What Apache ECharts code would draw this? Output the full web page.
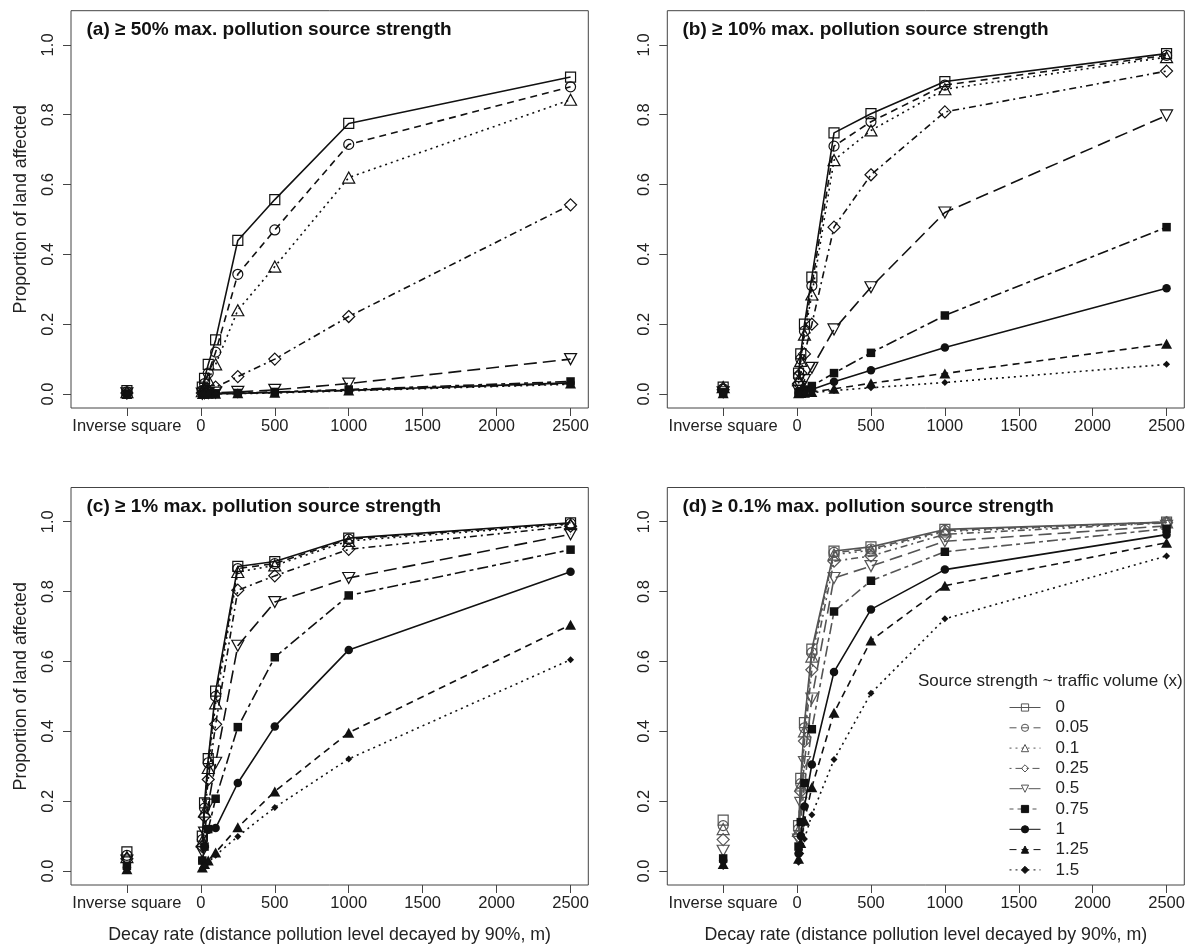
<!DOCTYPE html>
<html>
<head>
<meta charset="utf-8">
<script src="https://cdn.jsdelivr.net/npm/echarts@6/dist/echarts.min.js"></script>
<style>
html, body { margin: 0; padding: 0; background: #fff; }
#main { width: 1189px; height: 947px; }
</style>
</head>
<body>
<div id="main"></div>
<script>
var strengths = ['0', '0.05', '0.1', '0.25', '0.5', '0.75', '1', '1.25', '1.5'];
var decayRates = [10, 25, 50, 100, 250, 500, 1000, 2500];
var inverseSquareX = -500;
var xTicks = [-500, 0, 500, 1000, 1500, 2000, 2500];
var yTicks = [0, 0.2, 0.4, 0.6, 0.8, 1.0];
var panelTitles = [
    '(a) \u2265 50% max. pollution source strength',
    '(b) \u2265 10% max. pollution source strength',
    '(c) \u2265 1% max. pollution source strength',
    '(d) \u2265 0.1% max. pollution source strength'
];

// (a) >= 50%
var invSqA = [0.01, 0.006, 0.005, 0.003, 0.002, 0.001, 0.001, 0, 0];
var decayA = [
    [0.02, 0.045, 0.085, 0.155, 0.44, 0.557, 0.775, 0.908],
    [0.01, 0.03, 0.06, 0.12, 0.343, 0.47, 0.715, 0.88],
    [0.008, 0.02, 0.04, 0.085, 0.24, 0.365, 0.62, 0.843],
    [0.003, 0.007, 0.01, 0.02, 0.05, 0.1, 0.222, 0.542],
    [0.001, 0.002, 0.003, 0.004, 0.006, 0.012, 0.03, 0.1],
    [0.001, 0.001, 0.001, 0.002, 0.003, 0.006, 0.013, 0.036],
    [0.001, 0.001, 0.001, 0.001, 0.002, 0.005, 0.011, 0.032],
    [0, 0.001, 0.001, 0.001, 0.002, 0.004, 0.01, 0.03],
    [0, 0, 0.001, 0.001, 0.001, 0.003, 0.009, 0.028]
];

// (b) >= 10%
var invSqB = [0.02, 0.015, 0.02, 0.012, 0.005, 0.005, 0.003, 0.002, 0.001];
var decayB = [
    [0.06, 0.115, 0.2, 0.335, 0.748, 0.803, 0.895, 0.975],
    [0.05, 0.1, 0.18, 0.31, 0.71, 0.78, 0.885, 0.97],
    [0.04, 0.095, 0.17, 0.285, 0.67, 0.755, 0.873, 0.965],
    [0.03, 0.06, 0.115, 0.2, 0.478, 0.628, 0.808, 0.925],
    [0.01, 0.02, 0.04, 0.075, 0.185, 0.306, 0.52, 0.798],
    [0.005, 0.008, 0.013, 0.023, 0.06, 0.118, 0.225, 0.478],
    [0.003, 0.005, 0.008, 0.013, 0.035, 0.068, 0.133, 0.303],
    [0.002, 0.003, 0.004, 0.006, 0.015, 0.031, 0.059, 0.144],
    [0.001, 0.002, 0.003, 0.004, 0.01, 0.018, 0.033, 0.085]
];

// (c) >= 1%
var invSqC = [0.055, 0.045, 0.04, 0.035, 0.03, 0.015, 0.01, 0.005, 0.003];
var decayC = [
    [0.1, 0.195, 0.322, 0.515, 0.872, 0.886, 0.953, 0.997],
    [0.09, 0.18, 0.31, 0.5, 0.866, 0.88, 0.95, 0.995],
    [0.085, 0.17, 0.295, 0.48, 0.856, 0.875, 0.945, 0.993],
    [0.07, 0.156, 0.262, 0.42, 0.804, 0.845, 0.921, 0.987],
    [0.055, 0.11, 0.19, 0.31, 0.645, 0.77, 0.839, 0.964],
    [0.03, 0.07, 0.12, 0.207, 0.412, 0.612, 0.789, 0.92],
    [0.03, 0.07, 0.118, 0.123, 0.252, 0.414, 0.633, 0.857],
    [0.01, 0.02, 0.03, 0.053, 0.125, 0.228, 0.396, 0.705],
    [0.008, 0.015, 0.025, 0.045, 0.099, 0.182, 0.321, 0.605]
];

// (d) >= 0.1%
var invSqD = [0.146, 0.13, 0.12, 0.09, 0.058, 0.036, 0.03, 0.02, 0.013];
var decayD = [
    [0.13, 0.265, 0.425, 0.635, 0.916, 0.928, 0.978, 0.999],
    [0.12, 0.25, 0.41, 0.625, 0.912, 0.922, 0.975, 0.999],
    [0.115, 0.245, 0.4, 0.614, 0.906, 0.918, 0.972, 0.998],
    [0.1, 0.228, 0.372, 0.576, 0.887, 0.902, 0.964, 0.997],
    [0.09, 0.195, 0.312, 0.494, 0.839, 0.873, 0.944, 0.988],
    [0.07, 0.14, 0.252, 0.406, 0.743, 0.831, 0.914, 0.98],
    [0.05, 0.1, 0.185, 0.305, 0.57, 0.749, 0.863, 0.963],
    [0.035, 0.08, 0.144, 0.24, 0.453, 0.66, 0.817, 0.94],
    [0.025, 0.05, 0.092, 0.161, 0.319, 0.509, 0.722, 0.902]
];

// styles (R lty / pch look-alikes)
var lineDash = ['solid', [7, 5], [2, 4], [2, 4, 7, 4], [13, 6], [4, 4, 11, 4], 'solid', [7, 5], [2, 4]];
var symbolShape = ['rect', 'circle', 'triangle', 'diamond', 'triangle', 'rect', 'circle', 'triangle', 'diamond'];
var symbolTurn = [0, 0, 0, 0, 180, 0, 0, 0, 0];
var symbolDim = [10, 10, [12, 11], 12, [12, 11], 8.5, 8.5, [11, 10], 7];
var symbolFilled = [false, false, false, false, false, true, true, true, true];

var font = 'Liberation Sans, Arial, Helvetica, sans-serif';
var grids = [
    { left: 71, top: 10.7, width: 517.3, height: 397.3 },
    { left: 667.3, top: 10.7, width: 517, height: 397.3 },
    { left: 71, top: 487.5, width: 517.3, height: 397.5 },
    { left: 667.3, top: 487.5, width: 517, height: 397.5 }
];
var titleLeft = [86.5, 682.5, 86.5, 682.5];
var titleTop = [20, 20, 496.8, 496.8];

function buildSeries(panel, invSq, decay, inkTop) {
    return strengths.map(function (s, i) {
        var pts = [[inverseSquareX, invSq[i]], [-250, null]];
        decayRates.forEach(function (d, j) {
            pts.push([d, decay[i][j]]);
        });
        var ink = i < 6 ? inkTop : '#111';
        return {
            name: s,
            type: 'line',
            xAxisIndex: panel,
            yAxisIndex: panel,
            data: pts,
            connectNulls: false,
            symbol: symbolShape[i],
            symbolSize: symbolDim[i],
            symbolRotate: symbolTurn[i],
            showAllSymbol: true,
            lineStyle: { color: ink, width: 1.6, type: lineDash[i] },
            itemStyle: {
                color: symbolFilled[i] ? '#111' : 'rgba(255,255,255,0)',
                borderColor: symbolFilled[i] ? '#111' : ink,
                borderWidth: symbolFilled[i] ? 0 : 1.2
            },
            emphasis: { disabled: true },
            animation: false,
            z: 2 + i
        };
    });
}

function xAxisFor(i, named) {
    return {
        type: 'value',
        gridIndex: i,
        min: -878,
        max: 2620,
        axisLine: { show: false, onZero: false },
        axisTick: { show: true, length: 8, lineStyle: { color: '#444' }, customValues: xTicks },
        axisLabel: {
            customValues: xTicks,
            margin: 10,
            fontSize: 16.5,
            color: '#222',
            fontFamily: font,
            formatter: function (v) { return v === inverseSquareX ? 'Inverse square' : String(v); }
        },
        splitLine: { show: false },
        name: named ? 'Decay rate (distance pollution level decayed by 90%, m)' : '',
        nameLocation: 'middle',
        nameGap: 41,
        nameTextStyle: { fontSize: 17.8, color: '#222', fontFamily: font }
    };
}

function yAxisFor(i, named) {
    return {
        type: 'value',
        gridIndex: i,
        min: -0.04,
        max: 1.098,
        axisLine: { show: false, onZero: false },
        axisTick: { show: true, length: 8, lineStyle: { color: '#444' }, customValues: yTicks },
        axisLabel: {
            customValues: yTicks,
            rotate: 90,
            margin: 14,
            fontSize: 16.5,
            color: '#222',
            fontFamily: font,
            formatter: function (v) { return v.toFixed(1); }
        },
        splitLine: { show: false },
        name: named ? 'Proportion of land affected' : '',
        nameLocation: 'middle',
        nameGap: 41,
        nameTextStyle: { fontSize: 17.8, color: '#222', fontFamily: font }
    };
}

var titles = panelTitles.map(function (t, i) {
    return {
        text: t,
        left: titleLeft[i],
        top: titleTop[i],
        padding: 0,
        textStyle: { fontSize: 19, fontWeight: 'bold', color: '#111', fontFamily: font }
    };
});
titles.push({
    text: 'Source strength ~ traffic volume (x)',
    left: 918,
    top: 672.5,
    padding: 0,
    textStyle: { fontSize: 17, fontWeight: 'normal', color: '#222', fontFamily: font }
});

// panel (d) first so the legend takes its icons from (d)
var series = []
    .concat(buildSeries(3, invSqD, decayD, '#555'))
    .concat(buildSeries(0, invSqA, decayA, '#111'))
    .concat(buildSeries(1, invSqB, decayB, '#111'))
    .concat(buildSeries(2, invSqC, decayC, '#111'));

var option = {
    backgroundColor: '#fff',
    animation: false,
    title: titles,
    grid: grids.map(function (g) {
        return { left: g.left, top: g.top, width: g.width, height: g.height, show: true, borderColor: '#444', borderWidth: 1, backgroundColor: 'transparent' };
    }),
    xAxis: [xAxisFor(0, false), xAxisFor(1, false), xAxisFor(2, true), xAxisFor(3, true)],
    yAxis: [yAxisFor(0, true), yAxisFor(1, false), yAxisFor(2, true), yAxisFor(3, false)],
    legend: {
        data: strengths,
        orient: 'vertical',
        left: 1009,
        top: 699,
        padding: 0,
        itemWidth: 31,
        itemHeight: 9,
        itemGap: 3.3,
        selectedMode: false,
        lineStyle: { width: 1 },
        itemStyle: { borderWidth: 1 },
        textStyle: { fontSize: 17, color: '#222', fontFamily: font, padding: [0, 0, 0, 10] }
    },
    series: series
};

var myChart = echarts.init(document.getElementById('main'));
myChart.setOption(option);

window.addEventListener('resize', function () {
    myChart.resize();
});
</script>
</body>
</html>
